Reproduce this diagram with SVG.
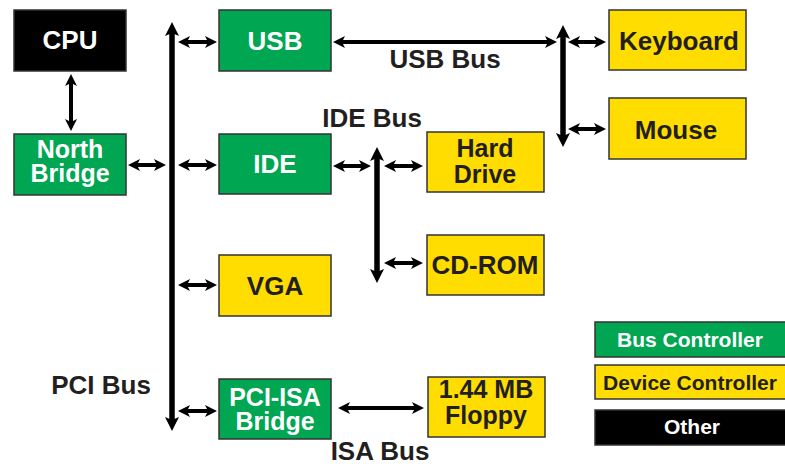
<svg xmlns="http://www.w3.org/2000/svg" width="785" height="464" viewBox="0 0 785 464">
<style>
.g{fill:#00A651;stroke:#333;stroke-width:1.5}
.y{fill:#FFDD00;stroke:#333;stroke-width:1.5}
.k{fill:#000;stroke:#333;stroke-width:1.5}
text{font-family:"Liberation Sans",Arial,sans-serif;font-weight:bold;text-anchor:middle}
.t{font-size:26px}
.t2{font-size:25px}
.w{fill:#fff}
.d{fill:#231F20}
.lg{font-size:21px}
.c line{stroke:#000;stroke-width:4;fill:none}
.c line.bus{stroke-width:5.5}
</style>
<defs>
<marker id="a" viewBox="0 0 12 12" markerWidth="12" markerHeight="12" refX="4" refY="6" orient="auto-start-reverse" markerUnits="userSpaceOnUse">
<path d="M0,0 L12,6 L0,12 L3,6 Z" fill="#000"/>
</marker>
<marker id="b" viewBox="0 0 14 14" markerWidth="14" markerHeight="14" refX="4" refY="7" orient="auto-start-reverse" markerUnits="userSpaceOnUse">
<path d="M0,0 L14,7 L0,14 L3,7 Z" fill="#000"/>
</marker>
</defs>
<g class="c">
<line x1="71" y1="82" x2="71" y2="123" marker-start="url(#a)" marker-end="url(#a)"/>
<line class="bus" x1="172" y1="32" x2="172" y2="421" marker-start="url(#b)" marker-end="url(#b)"/>
<line x1="136" y1="165" x2="158" y2="165" marker-start="url(#a)" marker-end="url(#a)"/>
<line x1="186" y1="42" x2="209" y2="42" marker-start="url(#a)" marker-end="url(#a)"/>
<line x1="186" y1="165" x2="209" y2="165" marker-start="url(#a)" marker-end="url(#a)"/>
<line x1="186" y1="285" x2="209" y2="285" marker-start="url(#a)" marker-end="url(#a)"/>
<line x1="186" y1="411" x2="209" y2="411" marker-start="url(#a)" marker-end="url(#a)"/>
<line x1="346" y1="408" x2="416" y2="408" marker-start="url(#a)" marker-end="url(#a)"/>
<line x1="341" y1="42" x2="549" y2="42" marker-start="url(#a)" marker-end="url(#a)"/>
<line class="bus" x1="563" y1="35" x2="563" y2="137" marker-start="url(#b)" marker-end="url(#b)"/>
<line x1="576" y1="42" x2="598" y2="42" marker-start="url(#a)" marker-end="url(#a)"/>
<line x1="576" y1="129" x2="598" y2="129" marker-start="url(#a)" marker-end="url(#a)"/>
<line x1="341" y1="166" x2="363" y2="166" marker-start="url(#a)" marker-end="url(#a)"/>
<line class="bus" x1="377" y1="157" x2="377" y2="273" marker-start="url(#b)" marker-end="url(#b)"/>
<line x1="392" y1="166" x2="415" y2="166" marker-start="url(#a)" marker-end="url(#a)"/>
<line x1="392" y1="263" x2="415" y2="263" marker-start="url(#a)" marker-end="url(#a)"/>
</g>
<g id="cpu"><rect class="k" x="14" y="10" width="112" height="61"/><text class="t w" x="70" y="49">CPU</text></g>
<g id="northbridge"><rect class="g" x="14" y="134" width="112" height="61"/><text class="t2 w" x="70" y="158">North</text><text class="t2 w" x="70" y="182">Bridge</text></g>
<g id="usb"><rect class="g" x="219" y="10" width="112" height="61"/><text class="t w" x="275" y="50">USB</text></g>
<g id="ide"><rect class="g" x="219" y="134" width="112" height="60"/><text class="t w" x="275" y="173">IDE</text></g>
<g id="vga"><rect class="y" x="219" y="255" width="112" height="61"/><text class="t d" x="275" y="295">VGA</text></g>
<g id="pciisa"><rect class="g" x="219" y="379" width="112" height="60"/><text class="t2 w" x="275" y="406">PCI-ISA</text><text class="t2 w" x="275" y="430">Bridge</text></g>
<g id="floppy"><rect class="y" x="428" y="377" width="117" height="60"/><text class="t2 d" x="486" y="398">1.44 MB</text><text class="t2 d" x="486" y="424">Floppy</text></g>
<g id="harddrive"><rect class="y" x="427" y="132" width="117" height="60"/><text class="t2 d" x="485" y="157">Hard</text><text class="t2 d" x="485" y="183">Drive</text></g>
<g id="cdrom"><rect class="y" x="427" y="235" width="117" height="60"/><text class="t d" x="485" y="274">CD-ROM</text></g>
<g id="keyboard"><rect class="y" x="609" y="10" width="137" height="60"/><text class="t d" x="679" y="50">Keyboard</text></g>
<g id="mouse"><rect class="y" x="609" y="98" width="137" height="61"/><text class="t d" x="676" y="139">Mouse</text></g>
<g id="labels">
<text class="t d" x="445" y="68">USB Bus</text>
<text class="t d" x="372" y="127">IDE Bus</text>
<text class="t d" x="101" y="394">PCI Bus</text>
<text class="t d" x="380" y="460">ISA Bus</text>
</g>
<g id="legend">
<rect class="g" x="595" y="322" width="195" height="35"/><text class="lg w" x="690" y="347">Bus Controller</text>
<rect class="y" x="595" y="365" width="195" height="34"/><text class="lg d" x="690" y="390">Device Controller</text>
<rect class="k" x="595" y="410" width="195" height="35"/><text class="lg w" x="692" y="434">Other</text>
</g>
</svg>
